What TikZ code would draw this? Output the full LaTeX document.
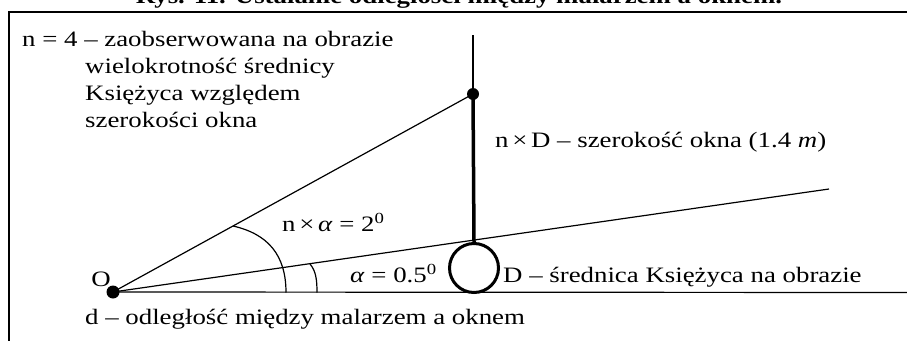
\documentclass[tikz,border=0pt]{standalone}
\usepackage{fontspec}
\setmainfont{Liberation Serif}[FakeStretch=1.22]
\begin{document}
\begin{tikzpicture}[x=1pt,y=-1pt,
  lbl/.style={inner sep=0pt,anchor=base west,font=\fontsize{22}{27}\selectfont},
  thin/.style={line width=1.2pt},
  dotnode/.style={circle,fill=black,inner sep=0pt,minimum size=13pt},
  moon/.style={circle,draw,line width=3pt,inner sep=0pt,minimum size=49pt}]
\useasboundingbox (0,0) rectangle (907,340);
% title (cut by the page top, as in the reference)
\node[lbl,anchor=base,font=\fontsize{22}{27}\selectfont\bfseries] (title) at (459,4) {Rys. 11. Ustalanie odległości między malarzem a oknem.};
% frame
\draw[line width=1.6pt] (9,345) -- (9,12) -- (912,12);
% points
\node[dotnode] (O) at (113,292) {};
\node[dotnode,minimum size=12pt] (T) at (473,94) {};
\node[moon] (M) at (474,268) {};
\coordinate (Top) at (473,35);
\coordinate (E) at (829,189);
\coordinate (B) at (910,292.5);
% lines
\draw[thin] (O.center) -- (B);
\draw[thin] (O.center) -- (E);
\draw[thin] (O.center) -- (T.center);
\draw[thin] (Top) -- (T.center);
\draw[line width=3.5pt] (T.center) -- (M.north);
% angle arcs
\draw[thin] (233,226) .. controls (268,234) and (286,255) .. (286,292.5);
\draw[thin] (310,264) .. controls (316,271) and (317,280) .. (317,292.5);
% labels
\node[lbl] (t1) at (22,46) {n = 4 – zaobserwowana na obrazie};
\node[lbl] (t2) at (85,73) {wielokrotność średnicy};
\node[lbl] (t3) at (85,100) {Księżyca względem};
\node[lbl] (t4) at (85,127) {szerokości okna};
\node[lbl] (nD) at (495,147) {n\,×\,D – szerokość okna (1.4 \textit{m})};
\node[lbl] (na) at (282,231) {n\,×\,\textit{α} = 2\textsuperscript{0}};
\node[lbl] (a) at (350,282) {\textit{α} = 0.5\textsuperscript{0}};
\node[lbl,anchor=base] (Olbl) at (101,286) {O};
\node[lbl] (Dl) at (503,282) {D – średnica Księżyca na obrazie};
\node[lbl] (dl) at (85,324) {d – odległość między malarzem a oknem};
\end{tikzpicture}
\end{document}
